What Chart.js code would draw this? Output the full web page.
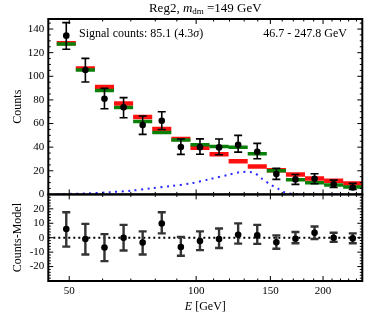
<!DOCTYPE html>
<html>
<head>
<meta charset="utf-8">
<script src="https://cdn.jsdelivr.net/npm/chart.js@4.4.0/dist/chart.umd.min.js"></script>
<style>
  html, body { margin: 0; padding: 0; background: #fff; }
</style>
</head>
<body>
<canvas id="myChart" width="370" height="324"></canvas>
<script>
/* globals Chart:false */
const energyMin = 44.6;
const energyMax = 247.8;
const binEdges = [46.7, 51.83, 57.53, 63.86, 70.88, 78.67, 87.32, 96.92, 107.57, 119.40, 132.53, 147.10, 163.27, 181.22, 201.14, 223.26, 247.8];
const binCenters = [49.2, 54.61, 60.61, 67.28, 74.67, 82.88, 91.99, 102.11, 113.33, 125.79, 139.62, 154.97, 172.01, 190.92, 211.91, 235.21];

const counts = [134.4, 105.3, 81, 73.7, 58.7, 62.4, 40.1, 40, 39.8, 42, 36.1, 17.2, 12.7, 13.2, 8.5, 5.9];
const countsLow = [122.9, 95.2, 72.5, 64.9, 50.8, 55, 33.9, 34, 33.6, 35.8, 30.2, 12.7, 8.5, 9, 5.9, 4.2];
const countsHigh = [145.4, 115.2, 89.8, 81.9, 66.4, 70, 46.9, 47, 46.9, 50, 43.2, 22, 16.9, 17.5, 12.1, 9.3];

const modelBkg = [128, 106.5, 91, 77, 65.5, 55.3, 47, 39.4, 33.9, 28, 23.7, 20.4, 16.9, 13.5, 11.6, 9.3];
const modelTotal = [127.4, 105.4, 88, 73.5, 61.8, 52.5, 46, 42, 40.6, 40, 34.4, 20, 12.4, 9.9, 7.9, 6.2];

const signalEnergy = [46.7, 55, 62.5, 70, 78, 87, 97, 108, 120, 127, 134, 138, 143, 149, 157, 162, 168, 180, 247.8];
const signalCounts = [0.2, 0.8, 1.9, 3.1, 5.1, 7, 9.3, 13, 16.8, 18.8, 19, 17.8, 13.5, 9, 4.5, 1.8, 0.6, 0.2, 0];

const residuals = [6, -0.9, -6.8, 0, -3.4, 9.8, -6.4, -2.3, -0.9, 2, 1.6, -3.2, -0.7, 3.4, 0, -0.5];
const residualsLow = [-6.2, -11.6, -16.2, -8.9, -11.6, 3, -12.5, -8.6, -7.1, -4.1, -4.3, -7.7, -3.8, -0.9, -2.9, -3.8];
const residualsHigh = [17.6, 9.6, 2.5, 8.9, 4.4, 17.6, 0.5, 4.4, 6.4, 9.9, 8.9, 1.6, 3.9, 7.8, 3.4, 3];

const countTicks = [0, 20, 40, 60, 80, 100, 120, 140];
const residualTicks = [-20, -10, 0, 10, 20];
const energyTicks = [50, 100, 150, 200];
const energyMinorTicks = [60, 70, 80, 90, 110, 120, 130, 140, 160, 170, 180, 190, 210, 220, 230, 240];

const serif = "'Liberation Serif', 'DejaVu Serif', serif";

// one flat segment per bin, broken with a null point
function binSegments(values) {
	let pts = [];
	values.forEach((v, i) => {
		pts.push({x: binEdges[i], y: v}, {x: binEdges[i + 1], y: v}, {x: binEdges[i + 1], y: null});
	});
	return pts;
}

const errorBars = {
	id: 'errorBars',
	beforeDatasetDraw(chart, args) {
		const ds = chart.data.datasets[args.index];
		if (!ds.errLow) return;
		const xs = chart.scales.x;
		const ys = chart.scales[ds.yAxisID];
		const ctx = chart.ctx;
		ctx.save();
		ctx.strokeStyle = ds.errColor;
		ctx.lineWidth = ds.errWidth;
		ds.data.forEach((p, i) => {
			const px = xs.getPixelForValue(p.x);
			const y0 = ys.getPixelForValue(ds.errLow[i]);
			const y1 = ys.getPixelForValue(ds.errHigh[i]);
			ctx.beginPath();
			ctx.moveTo(px, y0); ctx.lineTo(px, y1);
			ctx.moveTo(px - 4, y0); ctx.lineTo(px + 4, y0);
			ctx.moveTo(px - 4, y1); ctx.lineTo(px + 4, y1);
			ctx.stroke();
		});
		ctx.restore();
	}
};

const frame = {
	id: 'frame',
	afterDatasetsDraw(chart) {
		const ctx = chart.ctx;
		const xs = chart.scales.x;
		const panels = [[chart.scales.y, countTicks, 5], [chart.scales.yRes, residualTicks, 2]];
		ctx.save();
		ctx.strokeStyle = '#000';
		panels.forEach(([ys, majors, minorStep]) => {
			const top = ys.top, bottom = ys.bottom, left = xs.left, right = xs.right;
			ctx.lineWidth = 1;
			ctx.beginPath();
			energyTicks.forEach(e => {
				const px = xs.getPixelForValue(e);
				ctx.moveTo(px, bottom); ctx.lineTo(px, bottom - 5);
				ctx.moveTo(px, top); ctx.lineTo(px, top + 5);
			});
			energyMinorTicks.forEach(e => {
				const px = xs.getPixelForValue(e);
				ctx.moveTo(px, bottom); ctx.lineTo(px, bottom - 2.5);
				ctx.moveTo(px, top); ctx.lineTo(px, top + 2.5);
			});
			majors.forEach(v => {
				const py = ys.getPixelForValue(v);
				ctx.moveTo(left, py); ctx.lineTo(left + 5, py);
				ctx.moveTo(right, py); ctx.lineTo(right - 5, py);
			});
			for (let v = ys.min; v <= ys.max; v += minorStep) {
				if (majors.includes(v)) continue;
				const py = ys.getPixelForValue(v);
				ctx.moveTo(left, py); ctx.lineTo(left + 2.5, py);
				ctx.moveTo(right, py); ctx.lineTo(right - 2.5, py);
			}
			ctx.stroke();
			ctx.lineWidth = 2;
			ctx.strokeRect(left, top, right - left, bottom - top);
		});
		ctx.restore();
	}
};

const texts = {
	id: 'texts',
	afterDraw(chart) {
		const ctx = chart.ctx;
		const area = chart.chartArea;
		const mid = (area.left + area.right) / 2;
		ctx.save();
		ctx.fillStyle = '#000';
		ctx.textBaseline = 'middle';

		// title with italic m and subscript
		const parts = [
			['Reg2, ', '13px ' + serif, 0],
			['m', 'italic 13px ' + serif, 0],
			['dm', '9px ' + serif, 3],
			[' =149 GeV', '13px ' + serif, 0]
		];
		let total = 0;
		parts.forEach(p => { ctx.font = p[1]; total += ctx.measureText(p[0]).width; });
		let tx = mid - total / 2;
		ctx.textAlign = 'left';
		parts.forEach(p => {
			ctx.font = p[1];
			ctx.fillText(p[0], tx, 9 + p[2]);
			tx += ctx.measureText(p[0]).width;
		});

		ctx.font = '12px ' + serif;
		ctx.fillText('Signal counts: 85.1 (4.3', 79, 34);
		let w = ctx.measureText('Signal counts: 85.1 (4.3').width;
		ctx.font = 'italic 12px ' + serif;
		ctx.fillText('σ', 79 + w, 34);
		w += ctx.measureText('σ').width;
		ctx.font = '12px ' + serif;
		ctx.fillText(')', 79 + w, 34);

		ctx.textAlign = 'right';
		ctx.fillText('46.7 - 247.8 GeV', 347, 34);

		// x axis title
		ctx.textAlign = 'left';
		ctx.font = 'italic 12px ' + serif;
		const eW = ctx.measureText('E').width;
		ctx.font = '12px ' + serif;
		const gW = ctx.measureText(' [GeV]').width;
		const x0 = mid - (eW + gW) / 2;
		ctx.font = 'italic 12px ' + serif;
		ctx.fillText('E', x0, 307);
		ctx.font = '12px ' + serif;
		ctx.fillText(' [GeV]', x0 + eW, 307);
		ctx.restore();
	}
};

const tickFont = {family: serif, size: 11};

const chartJson = {
	type: 'line',
	data: {
		datasets: [{
			label: 'data',
			yAxisID: 'y',
			data: binCenters.map((c, i) => ({x: c, y: counts[i]})),
			errLow: countsLow,
			errHigh: countsHigh,
			errColor: '#000',
			errWidth: 1.6,
			showLine: false,
			pointRadius: 3.3,
			pointBackgroundColor: '#000',
			pointBorderWidth: 0,
			order: 0
		}, {
			label: 'model',
			yAxisID: 'y',
			data: binSegments(modelTotal),
			borderColor: '#0a800a',
			borderWidth: 3.5,
			borderCapStyle: 'butt',
			pointRadius: 0,
			spanGaps: false,
			order: 1
		}, {
			label: 'background',
			yAxisID: 'y',
			data: binSegments(modelBkg),
			borderColor: '#ff1010',
			borderWidth: 4.5,
			borderCapStyle: 'butt',
			pointRadius: 0,
			spanGaps: false,
			order: 2
		}, {
			label: 'signal',
			yAxisID: 'y',
			data: signalEnergy.map((e, i) => ({x: e, y: signalCounts[i]})),
			borderColor: '#2a2aff',
			borderWidth: 2,
			borderDash: [2, 4.5],
			pointRadius: 0,
			tension: 0.3,
			order: 3
		}, {
			label: 'residuals',
			yAxisID: 'yRes',
			data: binCenters.map((c, i) => ({x: c, y: residuals[i]})),
			errLow: residualsLow,
			errHigh: residualsHigh,
			errColor: '#333',
			errWidth: 2.4,
			showLine: false,
			pointRadius: 3.3,
			pointBackgroundColor: '#000',
			pointBorderWidth: 0,
			order: 0
		}, {
			label: 'zero',
			yAxisID: 'yRes',
			data: [{x: energyMin, y: 0}, {x: energyMax, y: 0}],
			borderColor: '#000',
			borderWidth: 2,
			borderDash: [2, 3],
			pointRadius: 0,
			order: 4
		}]
	},
	options: {
		responsive: false,
		animation: false,
		layout: {
			padding: {top: 19, right: 7.7, bottom: 0, left: 0}
		},
		plugins: {
			legend: {display: false},
			tooltip: {enabled: false}
		},
		scales: {
			x: {
				type: 'logarithmic',
				min: energyMin,
				max: energyMax,
				grid: {display: false, drawTicks: false},
				border: {display: false},
				afterBuildTicks: (scale) => { scale.ticks = energyTicks.map(v => ({value: v})); },
				afterFit: (scale) => { scale.height = 43; },
				ticks: {
					font: tickFont,
					color: '#000',
					padding: 4,
					maxRotation: 0,
					autoSkip: false,
					callback: (v) => String(v)
				}
			},
			yRes: {
				type: 'linear',
				position: 'left',
				stack: 'panels',
				stackWeight: 86.6,
				weight: 1,
				min: -30,
				max: 30,
				grid: {display: false, drawTicks: false},
				border: {display: false},
				afterBuildTicks: (scale) => { scale.ticks = residualTicks.map(v => ({value: v})); },
				afterFit: (scale) => { scale.width = 48.3; },
				ticks: {font: tickFont, color: '#000', padding: 4, autoSkip: false, callback: (v) => String(v)},
				title: {display: true, text: 'Counts-Model', font: {family: serif, size: 12}, color: '#000', padding: {top: 11, bottom: 0}}
			},
			y: {
				type: 'linear',
				position: 'left',
				stack: 'panels',
				stackWeight: 175.4,
				weight: 2,
				min: 0,
				max: 148.5,
				grid: {display: false, drawTicks: false},
				border: {display: false},
				afterBuildTicks: (scale) => { scale.ticks = countTicks.map(v => ({value: v})); },
				afterFit: (scale) => { scale.width = 48.3; },
				ticks: {font: tickFont, color: '#000', padding: 4, autoSkip: false, callback: (v) => String(v)},
				title: {display: true, text: 'Counts', font: {family: serif, size: 12}, color: '#000', padding: {top: 11, bottom: 0}}
			}
		}
	},
	plugins: [errorBars, frame, texts]
};

const ctx = document.getElementById('myChart');
// eslint-disable-next-line no-unused-vars
const myChart = new Chart(ctx, chartJson);
</script>
</body>
</html>
